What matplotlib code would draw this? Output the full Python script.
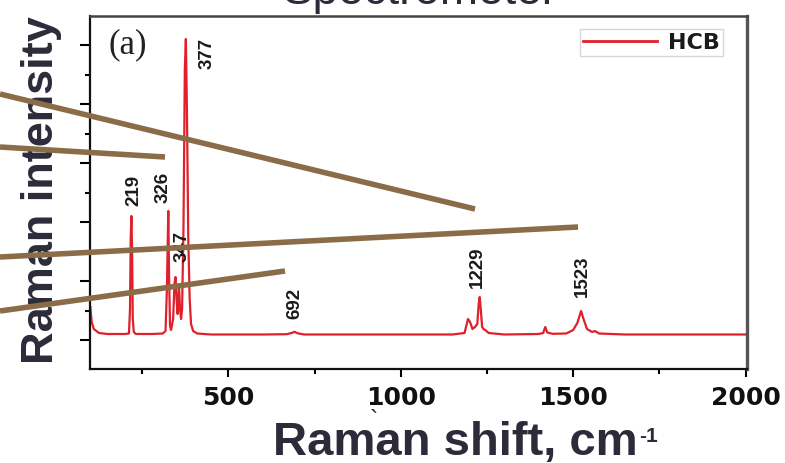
import matplotlib
matplotlib.use("Agg")
import matplotlib.pyplot as plt
from matplotlib.lines import Line2D
from matplotlib.ticker import FixedLocator

# ---- data (Raman shift cm-1, intensity a.u.) ----
shift = [100, 104, 110, 125, 150, 200, 212, 215, 217, 219, 221, 223, 226, 232,
         280, 310, 318, 322, 326, 328, 331, 334, 340, 344, 347, 350, 353, 357,
         360, 363, 366, 370, 374, 377, 380, 384, 388, 392, 398, 410, 450, 600,
         670, 685, 692, 700, 720, 900, 1150, 1185, 1195, 1201, 1208, 1215,
         1222, 1226, 1229, 1232, 1236, 1240, 1245, 1255, 1300, 1400, 1413,
         1419, 1425, 1440, 1480, 1500, 1512, 1523, 1530, 1540, 1555, 1563,
         1575, 1650, 2000]
intensity = [620, 470, 400, 360, 350, 350, 355, 600, 1300, 1530, 1200, 500, 370, 350,
             350, 355, 380, 800, 1580, 1000, 430, 390, 500, 850, 920, 700, 550, 830,
             600, 500, 600, 1400, 3000, 3300, 2600, 1300, 700, 450, 380, 355, 345, 345,
             348, 362, 372, 358, 345, 345, 345, 360, 500, 470, 400, 420,
             450, 650, 720, 600, 420, 400, 390, 360, 345, 350, 360,
             420, 365, 352, 355, 390, 460, 580, 500, 400, 370, 380,
             355, 345, 345]

series_name = "HCB"
peak_labels = ["219", "326", "347", "377", "692", "1229", "1523"]
x_ticks = [500, 1000, 1500, 2000]
x_minor = [250, 750, 1250, 1750]
y_major = [290, 880, 1470, 2060, 2650, 3240]
y_minor = [585, 1175, 1765, 2355, 2945]

# label positions (data coords)
label_x = [225, 312, 366, 438, 694, 1221, 1526]
label_y = [1800, 1825, 1240, 3170, 665, 1025, 940]

W, H = 785, 464
fig = plt.figure(figsize=(W / 100, H / 100), dpi=100)
ax = fig.add_axes([90 / W, 94 / H, 657 / W, 353 / H])

red = '#e0202a'
ax.plot(shift, intensity, color=red, lw=1.6, label=series_name)
ax.set_xlim(99, 2004)
ax.set_ylim(0, 3530)

ax.xaxis.set_major_locator(FixedLocator(x_ticks))
ax.xaxis.set_minor_locator(FixedLocator(x_minor))
ax.yaxis.set_major_locator(FixedLocator(y_major))
ax.yaxis.set_minor_locator(FixedLocator(y_minor))
ax.set_yticklabels([])
ax.tick_params(axis='x', which='major', direction='out', length=5.5, width=1.5,
               pad=6, labelsize=18, labelcolor='#111111')
ax.tick_params(axis='x', which='minor', direction='out', length=3.5, width=1.5)
ax.tick_params(axis='y', which='major', direction='out', length=7, width=1.5)
ax.tick_params(axis='y', which='minor', direction='out', length=3.5, width=1.5)
for lab in ax.get_xticklabels():
    lab.set_fontweight('bold')
    lab.set_family('DejaVu Sans')

ax.spines['left'].set_linewidth(1.6)
ax.spines['bottom'].set_linewidth(1.6)
ax.spines['left'].set_color('#111111')
ax.spines['bottom'].set_color('#111111')
ax.spines['top'].set_linewidth(1.8)
ax.spines['top'].set_color('#444444')
ax.spines['right'].set_linewidth(2.4)
ax.spines['right'].set_color('#555555')

for lx, ly, t in zip(label_x, label_y, peak_labels):
    ax.text(lx, ly, t, rotation=90, ha='center', va='center', fontsize=13.5,
            fontweight='bold', family='Liberation Sans', color='#1a1a1a')

ax.text(0.058, 0.921, "(a)", transform=ax.transAxes, ha='center', va='center',
        fontsize=25, family='Liberation Serif', color='#222222')

leg = ax.legend(loc='upper right', bbox_to_anchor=(723 / W, 1 - 30 / H),
                bbox_transform=fig.transFigure, borderaxespad=0, frameon=True,
                fancybox=False, handlelength=3.3, handletextpad=0.5,
                borderpad=0.15, prop={'family': 'DejaVu Sans', 'weight': 'bold', 'size': 16})
leg.get_frame().set_edgecolor('#cccccc')
leg.get_frame().set_linewidth(1.0)
for h in leg.get_lines():
    h.set_linewidth(2)
for t in leg.get_texts():
    t.set_color('#1a1a1a')

dark = '#2b2b3a'
# slide title (cut at top)
fig.text(420 / W, 1 - 4 / H, "Spectrometer", ha='center', va='baseline',
         fontsize=33, family='Liberation Sans', color=dark)
# x axis label with superscript
xl = fig.text(273 / W, 1 - 455 / H, "Raman shift, cm", ha='left', va='baseline',
              fontsize=34, fontweight='bold', family='Liberation Sans', color=dark)
fig.canvas.draw()
bb = xl.get_window_extent(renderer=fig.canvas.get_renderer())
fig.text((bb.x1 + 1) / W, 1 - 442 / H, "-1", ha='left', va='baseline',
         fontsize=15, fontweight='bold', family='Liberation Sans', color=dark)
fig.text(374 / W, 1 - 428 / H, "`", ha='center', va='baseline',
         fontsize=18, family='Liberation Sans', color=dark)
fig.text(53 / W, 1 - 190 / H, "Raman intensity", rotation=90, rotation_mode='anchor',
         ha='center', va='baseline', fontsize=32.5, fontweight='bold',
         family='Liberation Sans', color=dark)

# overlaid brown strokes
brown = '#8a6c48'
strokes = [((0, 95), (475, 210)), ((0, 148), (165, 158)),
           ((0, 258), (578, 228)), ((0, 312), (285, 272))]
for (x0, y0), (x1, y1) in strokes:
    fig.add_artist(Line2D([x0 / W, x1 / W], [1 - y0 / H, 1 - y1 / H],
                          transform=fig.transFigure, color=brown, lw=4.0,
                          solid_capstyle='butt', zorder=10))

fig.savefig("out.png", dpi=100)
